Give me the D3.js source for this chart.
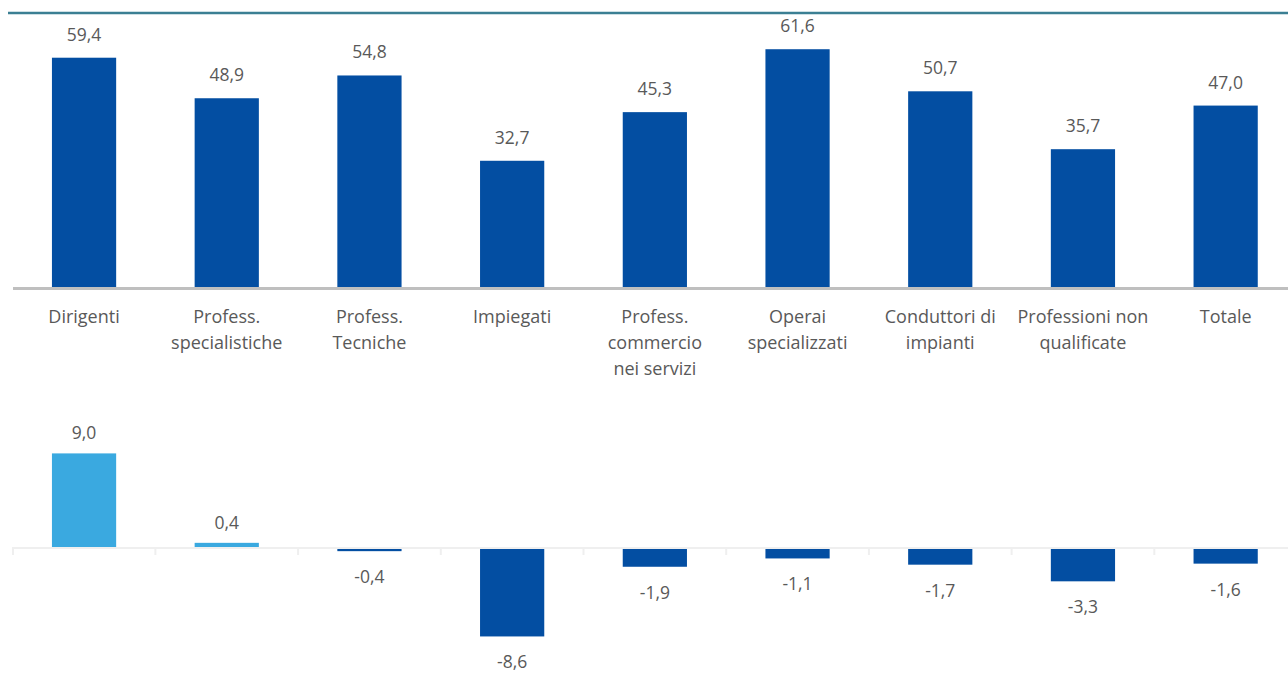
<!DOCTYPE html>
<html>
<head>
<meta charset="utf-8">
<script src="https://cdnjs.cloudflare.com/ajax/libs/d3/7.8.5/d3.min.js"></script>
<style>
  html, body { margin: 0; padding: 0; background: #fff; }
  svg { display: block; }
  text { font-family: "Open Sans", "Noto Sans", sans-serif; fill: #595959; }
</style>
</head>
<body>
<svg id="chart" width="1288" height="691"></svg>
<script>
const categories = [
  ["Dirigenti"],
  ["Profess.", "specialistiche"],
  ["Profess.", "Tecniche"],
  ["Impiegati"],
  ["Profess.", "commercio", "nei servizi"],
  ["Operai", "specializzati"],
  ["Conduttori di", "impianti"],
  ["Professioni non", "qualificate"],
  ["Totale"]
];
const levels = [59.4, 48.9, 54.8, 32.7, 45.3, 61.6, 50.7, 35.7, 47.0];
const changes = [9.0, 0.4, -0.4, -8.6, -1.9, -1.1, -1.7, -3.3, -1.6];

const fmt = v => v.toFixed(1).replace(".", ",");
const darkBlue = "#034ea2";
const lightBlue = "#3aa9e0";

const svg = d3.select("#chart");
const keys = categories.map((c, i) => i);

const x = d3.scaleBand().domain(keys).range([12.7, 1297]).paddingInner(0.55).paddingOuter(0.275);

// top line
svg.append("line").attr("x1", 8).attr("x2", 1288).attr("y1", 13).attr("y2", 13)
  .attr("stroke", "#3b7f93").attr("stroke-width", 2.5);

// ---- top chart ----
const yTop = d3.scaleLinear().domain([0, 70]).range([287, 287 - 70 * 3.86]);
const gTop = svg.append("g");
gTop.selectAll("rect").data(levels).join("rect")
  .attr("x", (d, i) => x(i))
  .attr("width", x.bandwidth())
  .attr("y", d => yTop(d))
  .attr("height", d => yTop(0) - yTop(d))
  .attr("fill", darkBlue);
gTop.selectAll("text.val").data(levels).join("text").attr("class", "val")
  .attr("x", (d, i) => x(i) + x.bandwidth() / 2)
  .attr("y", d => yTop(d) - 17)
  .attr("text-anchor", "middle")
  .attr("font-size", 17.5)
  .text(fmt);

svg.append("line").attr("x1", 13).attr("x2", 1288)
  .attr("y1", yTop(0) + 1.5).attr("y2", yTop(0) + 1.5)
  .attr("stroke", "#bfbfbf").attr("stroke-width", 3);

const labG = svg.append("g");
categories.forEach((lines, i) => {
  const t = labG.append("text")
    .attr("x", x(i) + x.bandwidth() / 2)
    .attr("y", 322.5)
    .attr("text-anchor", "middle")
    .attr("font-size", 18);
  lines.forEach((ln, j) => {
    t.append("tspan").attr("x", x(i) + x.bandwidth() / 2).attr("dy", j === 0 ? 0 : 26).text(ln);
  });
});

// ---- bottom chart ----
const yBot = d3.scaleLinear().domain([-10, 10]).range([547 + 104, 547 - 104]);
const gBot = svg.append("g");
gBot.selectAll("rect").data(changes).join("rect")
  .attr("x", (d, i) => x(i))
  .attr("width", x.bandwidth())
  .attr("y", d => yBot(Math.max(0, d)))
  .attr("height", d => Math.abs(yBot(d) - yBot(0)))
  .attr("fill", d => d >= 0 ? lightBlue : darkBlue);

// axis with ticks at category boundaries
const bounds = keys.map(i => x(i) - x.step() * x.paddingInner() / 2);
bounds[0] = 13;
svg.append("line").attr("x1", 13).attr("x2", 1288)
  .attr("y1", yBot(0) + 1).attr("y2", yBot(0) + 1)
  .attr("stroke", "#efefef").attr("stroke-width", 2);
svg.append("g").selectAll("line").data(bounds).join("line")
  .attr("x1", d => d).attr("x2", d => d)
  .attr("y1", yBot(0)).attr("y2", yBot(0) + 8)
  .attr("stroke", "#efefef").attr("stroke-width", 2);

gBot.selectAll("text.val").data(changes).join("text").attr("class", "val")
  .attr("x", (d, i) => x(i) + x.bandwidth() / 2)
  .attr("y", d => d >= 0 ? yBot(d) - 14 : yBot(d) + 32)
  .attr("text-anchor", "middle")
  .attr("font-size", 17.5)
  .text(fmt);
</script>
</body>
</html>
